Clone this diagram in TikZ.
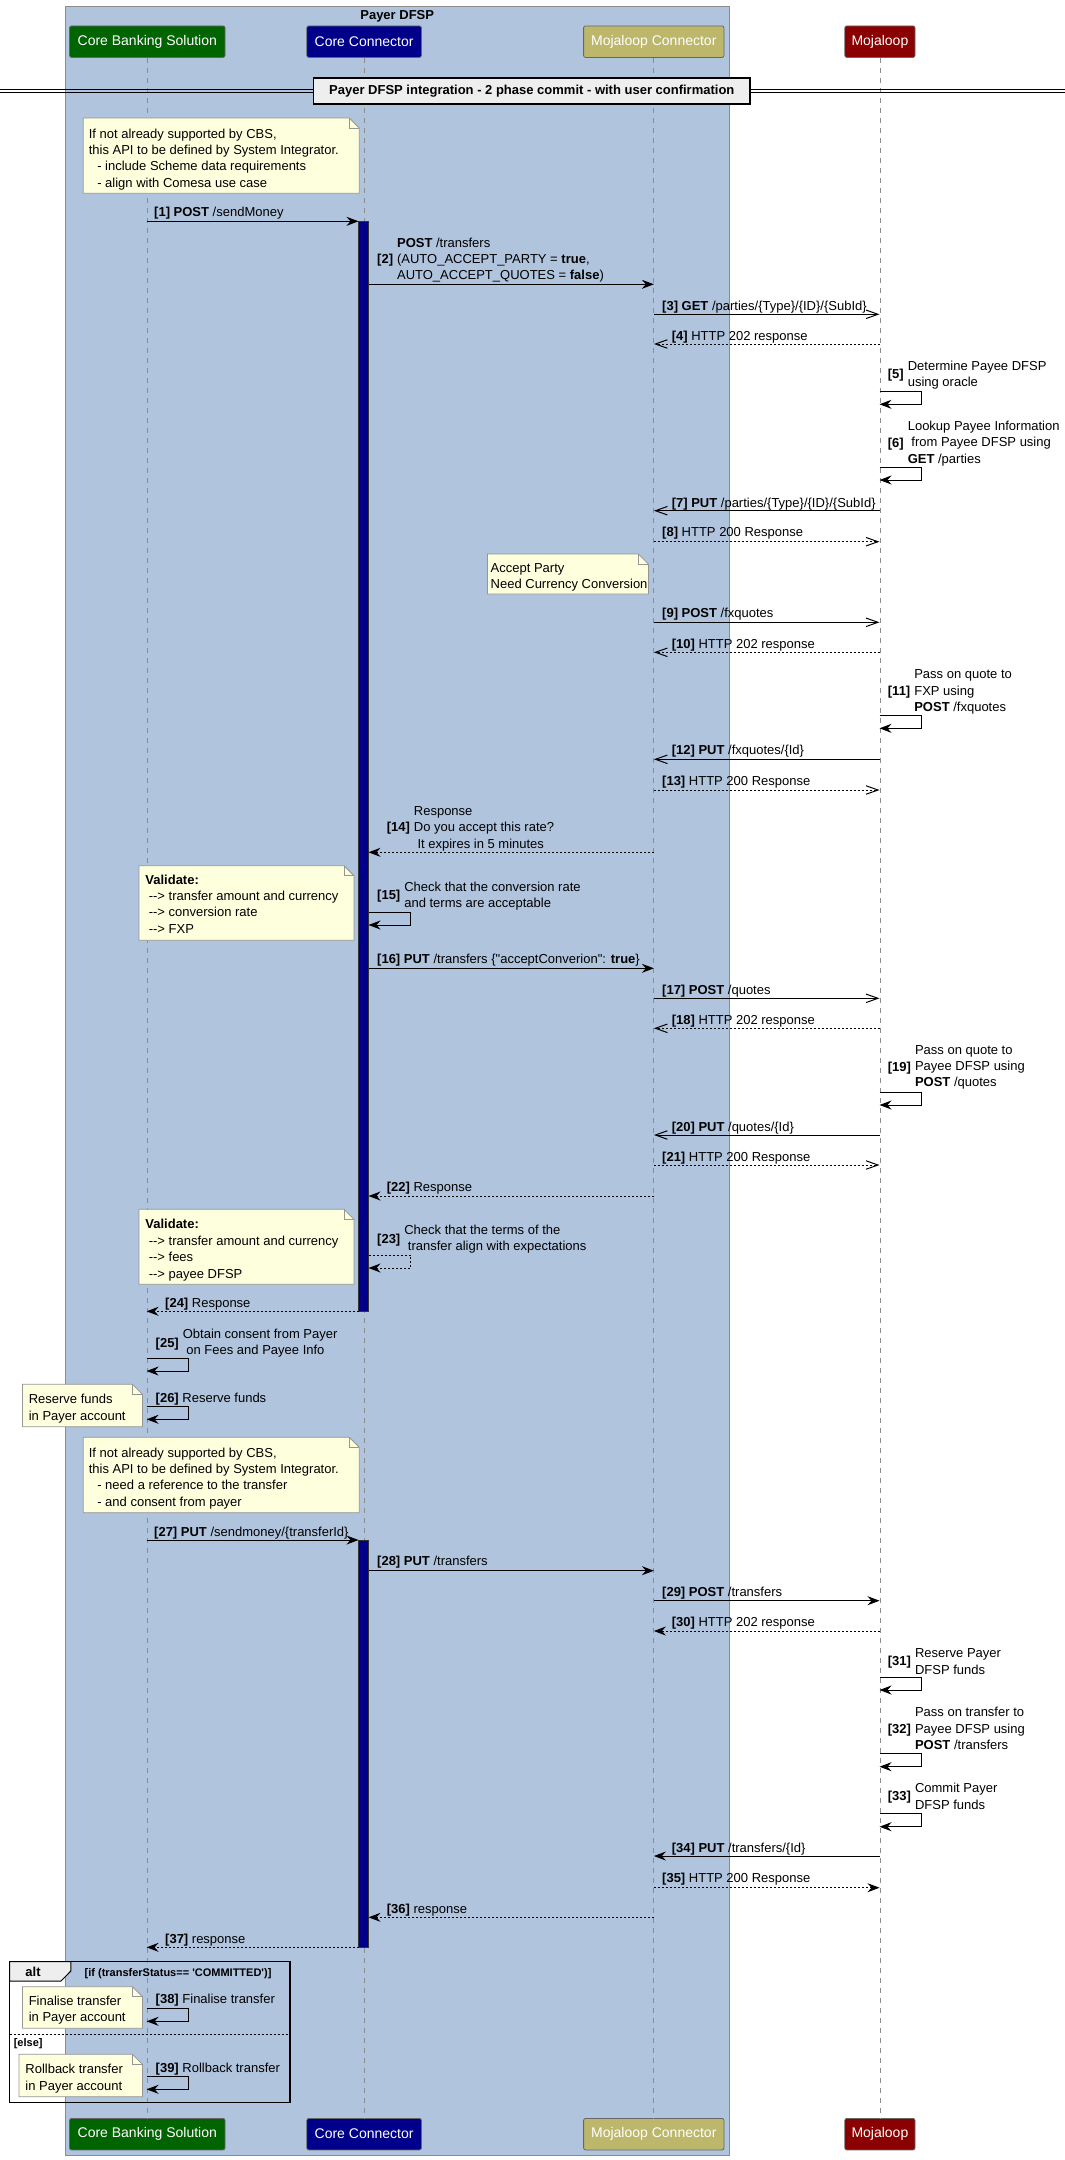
\documentclass[tikz,border=0pt]{standalone}
\usepackage{fontspec}
\setmainfont{Liberation Sans}[Ligatures=TeXOff]
\usetikzlibrary{arrows.meta}
\definecolor{boxbg}{RGB}{176,196,222}
\definecolor{cbsc}{RGB}{0,100,0}
\definecolor{ccc}{RGB}{0,0,139}
\definecolor{mcc}{RGB}{189,183,107}
\definecolor{mjc}{RGB}{139,0,0}
\definecolor{notebg}{RGB}{254,255,221}
\definecolor{noteborder}{RGB}{150,150,150}
\definecolor{divbg}{RGB}{238,238,238}
\tikzset{
 lbl/.style={font=\fontsize{13}{16.4}\selectfont, inner sep=0pt, text=black},
 part/.style={draw=black!60, line width=0.8pt, rounded corners=2pt, text=white, font=\fontsize{14}{16}\selectfont, inner sep=0pt, minimum height=31.5pt},
 lifeline/.style={draw=black!45, line width=0.8pt, dash pattern=on 5pt off 5pt},
 msgline/.style={line width=1pt},
 fhead/.style={msgline, -{Stealth[length=12pt,width=9pt,inset=4pt]}},
 ohead/.style={msgline, -{Straight Barb[length=12pt,width=8.5pt]}},
 dotline/.style={dash pattern=on 2pt off 2pt},
 notestyle/.style={draw=noteborder, fill=notebg, line width=0.8pt},
 actbar/.style={draw=black!80, fill=ccc, line width=0.6pt, minimum width=10pt, inner sep=0pt},
}
\newcommand\seqmsg[5]{\coordinate (#1s) at (#3,#2); \coordinate (#1e) at (#4,#2); \draw[#5] (#1s) -- (#1e);}
\newcommand\selfmsg[5]{\coordinate (#1s) at (#2,#3); \coordinate (#1e) at (#2,#4); \draw[#5] (#1s) -- ++(42.3,0) |- (#1e);}
\newcommand\Slbl[4]{\node[lbl,anchor=base west] (#1) at (#2,#3+4.7) {#4};}
\newcommand\Mlbl[6]{%
 \node[lbl,anchor=base west] (#1n) at (#2,#3+4.7) {\textbf{[#5]}};
 \coordinate (#1y) at (0,#4-6.8);
 \node[lbl,anchor=north west,align=left,xshift=3.6pt] (#1t) at (#1n.east |- #1y) {\strut #6};}
\newcommand\notebox[4]{%
 \draw[notestyle] (#1,#2) -- (#3-10,#2) -- (#3,#2+10) -- (#3,#4) -- (#1,#4) -- cycle;
 \draw[draw=noteborder, line width=0.8pt] (#3-10,#2) -- (#3-10,#2+10) -- (#3,#2+10);}
\newcommand\notetext[4]{\node[lbl,anchor=north west,align=left] (#1) at (#2,#3-6.8) {\strut #4};}
\newcommand\ind[1]{\hspace*{#1pt}}
\begin{document}
\begin{tikzpicture}[x=1pt,y=-1pt]
\useasboundingbox (0,0) rectangle (1065,2160);
\fill[white] (0,0) rectangle (1065,2160);
% Payer DFSP box
\draw[fill=boxbg, draw=black!45, line width=0.8pt] (65.5,6) rectangle (728.9,2155);
\node[lbl, font=\bfseries\fontsize{13}{15}\selectfont, anchor=base] (boxTitle) at (397.2,19.7) {Payer DFSP};
% participants
\node[part, fill=cbsc, minimum width=155.5pt] (cbsT) at (147.3,41.65) {Core Banking Solution};
\node[part, fill=ccc, minimum width=114.6pt] (ccT) at (364.1,41.65) {Core Connector};
\node[part, fill=mcc, minimum width=140.4pt] (mcT) at (653.8,41.65) {Mojaloop Connector};
\node[part, fill=mjc, minimum width=70.2pt] (mjT) at (879.9,41.65) {Mojaloop};
\node[part, fill=cbsc, minimum width=155.5pt] (cbsB) at (147.3,2134.15) {Core Banking Solution};
\node[part, fill=ccc, minimum width=114.6pt] (ccB) at (364.1,2134.15) {Core Connector};
\node[part, fill=mcc, minimum width=140.4pt] (mcB) at (653.8,2134.15) {Mojaloop Connector};
\node[part, fill=mjc, minimum width=70.2pt] (mjB) at (879.9,2134.15) {Mojaloop};
\draw[lifeline] (cbsT.south) -- (cbsB.north);
\draw[lifeline] (ccT.south) -- (ccB.north);
\draw[lifeline] (mcT.south) -- (mcB.north);
\draw[lifeline] (mjT.south) -- (mjB.north);
% divider
\coordinate (divL1) at (0,89); \coordinate (divR1) at (1065,89);
\coordinate (divL2) at (0,92.5); \coordinate (divR2) at (1065,92.5);
\draw[line width=1pt] (divL1) -- (divR1);
\draw[line width=1pt] (divL2) -- (divR2);
\node[draw, line width=1.5pt, fill=divbg, minimum width=436.4pt, minimum height=26pt, inner sep=0pt, font=\bfseries\fontsize{13}{15}\selectfont] (divider) at (531.8,91) {Payer DFSP integration - 2 phase commit - with user confirmation};
% notes
\notebox{83.2}{118}{359.3}{193.3}
\notetext{note1}{88.6}{133.3}{If not already supported by CBS,\\this API to be defined by System Integrator.\\\ind{8.5}- include Scheme data requirements\\\ind{8.5}- align with Comesa use case}
\notebox{487.5}{554}{648.4}{594}
\notetext{noteAP}{490.5}{567.7}{Accept Party\\Need Currency Conversion}
\notebox{139}{865.7}{353.9}{940.3}
\notetext{noteV1}{145.2}{879.3}{\textbf{Validate:}\\\ind{3.4}-{}-> transfer amount and currency\\\ind{3.4}-{}-> conversion rate\\\ind{3.4}-{}-> FXP}
\notebox{139}{1209.3}{353.9}{1284.3}
\notetext{noteV2}{145.2}{1224}{\textbf{Validate:}\\\ind{3.4}-{}-> transfer amount and currency\\\ind{3.4}-{}-> fees\\\ind{3.4}-{}-> payee DFSP}
\notebox{22.5}{1384.3}{142.5}{1426.7}
\notetext{noteRF}{28.6}{1399}{Reserve funds\\in Payer account}
\notebox{83.2}{1437.3}{359.3}{1512.7}
\notetext{note3}{88.6}{1452.3}{If not already supported by CBS,\\this API to be defined by System Integrator.\\\ind{8.5}- need a reference to the transfer\\\ind{8.5}- and consent from payer}
% activations
\node[actbar, minimum height=1090pt] (act1) at (363.5,766.3) {};
\node[actbar, minimum height=407.3pt] (act2) at (363.5,1743.65) {};
% alt frame
\coordinate (altTL) at (9.5,1961.7); \coordinate (altBR) at (289.8,2102.3);
\draw[line width=1.5pt] (altTL) rectangle (altBR);
\draw[fill=divbg, line width=1pt] (9.5,1961.7) -- (70.9,1961.7) -- (70.9,1971) -- (61,1981) -- (9.5,1981) -- cycle;
\node[lbl, font=\bfseries\fontsize{13}{15}\selectfont] (altLbl) at (33,1971.5) {alt};
\node[lbl, font=\bfseries\fontsize{11}{13}\selectfont, anchor=base west] (altCond) at (84.5,1976.2) {[if (transferStatus== 'COMMITTED')]};
\coordinate (sepL) at (9.5,2034.3); \coordinate (sepR) at (289.8,2034.3);
\draw[line width=1pt, dotline] (sepL) -- (sepR);
\node[lbl, font=\bfseries\fontsize{11}{13}\selectfont, anchor=base west] (altElse) at (13.6,2046.6) {[else]};
\notebox{22.5}{1986.7}{142.5}{2028.3}
\notetext{noteFT}{28.6}{2000.3}{Finalise transfer\\in Payer account}
\notebox{19}{2054.3}{142.5}{2096.7}
\notetext{noteRB}{25.2}{2068.7}{Rollback transfer\\in Payer account}
% messages
\seqmsg{m1}{221.3}{146.6}{358.5}{fhead}
\Slbl{l1}{154}{211.7}{\textbf{[1] POST} /sendMoney}
\seqmsg{m2}{284.3}{368.5}{653.9}{fhead}
\Mlbl{l2}{377}{259}{242.3}{2}{\textbf{POST} /transfers\\(AUTO\_ACCEPT\_PARTY = \textbf{true},\\AUTO\_ACCEPT\_QUOTES = \textbf{false})}
\seqmsg{m3}{314.3}{653.9}{879.5}{ohead}
\Slbl{l3}{662}{306}{\textbf{[3] GET} /parties/\{Type\}/\{ID\}/\{SubId\}}
\seqmsg{m4}{344}{879.5}{653.9}{ohead,dotline}
\Slbl{l4}{671.6}{335.7}{\textbf{[4]} HTTP 202 response}
\selfmsg{m5}{879.5}{391}{404.3}{fhead}
\Mlbl{l5}{887.7}{374}{365.7}{5}{Determine Payee DFSP\\using oracle}
\selfmsg{m6}{879.5}{467.7}{480}{fhead}
\Mlbl{l6}{887.7}{442.3}{425.7}{6}{Lookup Payee Information\\\ind{3.6}from Payee DFSP using\\\textbf{GET} /parties}
\seqmsg{m7}{510.7}{879.5}{653.9}{ohead}
\Slbl{l7}{671.6}{502.3}{\textbf{[7] PUT} /parties/\{Type\}/\{ID\}/\{SubId\}}
\seqmsg{m8}{541.7}{653.9}{879.5}{ohead,dotline}
\Slbl{l8}{662}{531.7}{\textbf{[8]} HTTP 200 Response}
\seqmsg{m9}{622.3}{653.9}{879.5}{ohead}
\Slbl{l9}{662}{612.3}{\textbf{[9] POST} /fxquotes}
\seqmsg{m10}{652.3}{879.5}{653.9}{ohead,dotline}
\Slbl{l10}{671.6}{643.3}{\textbf{[10]} HTTP 202 response}
\selfmsg{m11}{879.5}{715.7}{728.3}{fhead}
\Mlbl{l11}{887.7}{690.7}{674}{11}{Pass on quote to\\FXP using\\\textbf{POST} /fxquotes}
\seqmsg{m12}{759.3}{879.5}{653.9}{ohead}
\Slbl{l12}{671.6}{749.3}{\textbf{[12] PUT} /fxquotes/\{Id\}}
\seqmsg{m13}{790}{653.9}{879.5}{ohead,dotline}
\Slbl{l13}{662}{780.7}{\textbf{[13]} HTTP 200 Response}
\seqmsg{m14}{852.3}{653.9}{368.5}{fhead,dotline}
\Mlbl{l14}{386.6}{826.7}{810.7}{14}{Response\\Do you accept this rate?\\\ind{3.6}It expires in 5 minutes}
\selfmsg{m15}{368.5}{912.3}{925}{fhead}
\Mlbl{l15}{377}{895}{886.7}{15}{Check that the conversion rate\\and terms are acceptable}
\seqmsg{m16}{968.3}{368.5}{653.9}{fhead}
\Slbl{l16}{377}{958.3}{\textbf{[16] PUT} /transfers \{"acceptConverion": \textbf{true}\}}
\seqmsg{m17}{998.3}{653.9}{879.5}{ohead}
\Slbl{l17}{662}{989.3}{\textbf{[17] POST} /quotes}
\seqmsg{m18}{1028.3}{879.5}{653.9}{ohead,dotline}
\Slbl{l18}{671.6}{1020}{\textbf{[18]} HTTP 202 response}
\selfmsg{m19}{879.5}{1092.3}{1105}{fhead}
\Mlbl{l19}{887.7}{1066.7}{1049.3}{19}{Pass on quote to\\Payee DFSP using\\\textbf{POST} /quotes}
\seqmsg{m20}{1135}{879.5}{653.9}{ohead}
\Slbl{l20}{671.6}{1126.7}{\textbf{[20] PUT} /quotes/\{Id\}}
\seqmsg{m21}{1165}{653.9}{879.5}{ohead,dotline}
\Slbl{l21}{662}{1156.7}{\textbf{[21]} HTTP 200 Response}
\seqmsg{m22}{1196}{653.9}{368.5}{fhead,dotline}
\Slbl{l22}{386.6}{1186.7}{\textbf{[22]} Response}
\selfmsg{m23}{368.5}{1255.3}{1268}{fhead,dotline}
\Mlbl{l23}{377}{1239}{1229.3}{23}{Check that the terms of the\\\ind{3.6}transfer align with expectations}
\seqmsg{m24}{1311.3}{358.5}{146.6}{fhead,dotline}
\Slbl{l24}{165}{1302.7}{\textbf{[24]} Response}
\selfmsg{m25}{146.6}{1358.3}{1371}{fhead}
\Mlbl{l25}{155.5}{1342.3}{1333.3}{25}{Obtain consent from Payer\\\ind{3.6}on Fees and Payee Info}
\selfmsg{m26}{146.6}{1406.3}{1419.3}{fhead}
\Slbl{l26}{155.5}{1398}{\textbf{[26]} Reserve funds}
\seqmsg{m27}{1540}{146.6}{358.5}{fhead}
\Slbl{l27}{154}{1531.7}{\textbf{[27] PUT} /sendmoney/\{transferId\}}
\seqmsg{m28}{1570.7}{368.5}{653.9}{fhead}
\Slbl{l28}{377}{1560.7}{\textbf{[28] PUT} /transfers}
\seqmsg{m29}{1600.7}{653.9}{879.5}{fhead}
\Slbl{l29}{662}{1591.7}{\textbf{[29] POST} /transfers}
\seqmsg{m30}{1631}{879.5}{653.9}{fhead,dotline}
\Slbl{l30}{671.6}{1621.7}{\textbf{[30]} HTTP 202 response}
\selfmsg{m31}{879.5}{1677.3}{1690}{fhead}
\Mlbl{l31}{887.7}{1660.7}{1652.7}{31}{Reserve Payer\\DFSP funds}
\selfmsg{m32}{879.5}{1753.3}{1766.7}{fhead}
\Mlbl{l32}{887.7}{1729}{1711.7}{32}{Pass on transfer to\\Payee DFSP using\\\textbf{POST} /transfers}
\selfmsg{m33}{879.5}{1813.3}{1826.7}{fhead}
\Mlbl{l33}{887.7}{1796}{1787.7}{33}{Commit Payer\\DFSP funds}
\seqmsg{m34}{1856}{879.5}{653.9}{fhead}
\Slbl{l34}{671.6}{1847.7}{\textbf{[34] PUT} /transfers/\{Id\}}
\seqmsg{m35}{1887.7}{653.9}{879.5}{fhead,dotline}
\Slbl{l35}{662}{1877.7}{\textbf{[35]} HTTP 200 Response}
\seqmsg{m36}{1917.3}{653.9}{368.5}{fhead,dotline}
\Slbl{l36}{386.6}{1909}{\textbf{[36]} response}
\seqmsg{m37}{1947.3}{358.5}{146.6}{fhead,dotline}
\Slbl{l37}{165}{1939}{\textbf{[37]} response}
\selfmsg{m38}{146.6}{2008.3}{2021.3}{fhead}
\Slbl{l38}{155.5}{1999}{\textbf{[38]} Finalise transfer}
\selfmsg{m39}{146.6}{2076.3}{2089.3}{fhead}
\Slbl{l39}{155.5}{2067.7}{\textbf{[39]} Rollback transfer}
\end{tikzpicture}
\end{document}
